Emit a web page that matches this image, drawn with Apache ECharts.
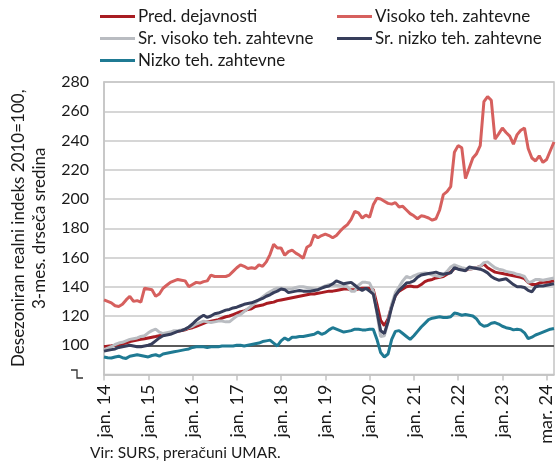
<!DOCTYPE html>
<html>
<head>
<meta charset="utf-8">
<script src="https://cdn.jsdelivr.net/npm/echarts@6/dist/echarts.min.js"></script>
<style>
  html, body { margin: 0; padding: 0; background: #fff; }
  #chart { width: 556px; height: 465px; }
</style>
</head>
<body>
<div id="chart"></div>
<script>
// mesečni podatki jan. 2014 - mar. 2024, 3-mes. drseča sredina
var months = [];
var mNames = ['jan.', 'feb.', 'mar.', 'apr.', 'maj', 'jun.', 'jul.', 'avg.', 'sep.', 'okt.', 'nov.', 'dec.'];
for (var y = 14; y <= 24; y++) {
    for (var m = 0; m < 12; m++) {
        if (y === 24 && m > 2) break;
        months.push(mNames[m] + ' ' + y);
    }
}

// oznake na osi x (vsakih 12 mesecev)
var tickLabels = ['jan. 14', 'jan. 15', 'jan. 16', 'jan. 17', 'jan. 18', 'jan. 19',
    'jan. 20', 'jan. 21', 'jan. 22', 'jan. 23', 'mar. 24'];
var yTicks = [100, 120, 140, 160, 180, 200, 220, 240, 260, 280];

var pred = [99, 99.3, 99.6, 100, 100.5, 101, 101.5, 102.5, 103, 103.5, 104, 104.5,
    105, 105.5, 106, 106.5, 107, 107.5, 108.5, 109, 109.5, 110, 110.5, 111.5,
    112, 113, 114, 115, 116, 116.5, 117, 117.5, 118.5, 119.5, 120, 121,
    122, 123, 123.5, 124.5, 125, 126.5, 127, 127.5, 128.5, 129, 129.5, 130.5,
    131, 131.5, 132, 132.5, 133, 133.5, 134, 134.5, 135, 135, 135.5, 136,
    136.5, 137, 137, 137.5, 138, 138.5, 138.5, 138, 138, 138.5, 139, 139,
    139, 138, 128, 117, 113.5, 118, 127, 134, 137, 138.5, 140, 140.5,
    140, 140, 141.5, 143.5, 144.5, 145, 146, 146.5, 147, 148.5, 150, 152.5,
    153, 152, 151.5, 152, 152.5, 153, 154, 155.5, 153, 151.5, 150, 149.5,
    149, 148.5, 148, 147.5, 147, 146.5, 145.5, 143, 141.5, 141.5, 142.5, 143,
    143, 143.5, 144];

var visoko = [131, 130, 129, 127, 126.5, 128, 131, 133.5, 130, 130.5, 129.5, 139,
    138.5, 138, 133.5, 135, 139, 141, 143, 144, 145, 144.5, 144, 140,
    141.5, 143, 142.5, 143.5, 144, 148, 147, 147, 147, 147, 148, 150.5,
    153, 155, 154, 152.5, 153, 152.5, 155, 154, 157, 162, 169, 166.5,
    166.5, 161.5, 164, 165, 163, 161.5, 159.5, 167, 168.5, 175.5, 173.5, 175,
    176, 175, 173.5, 175, 178, 180.5, 182.5, 186, 191.5, 190.5, 187, 189,
    187.5, 196, 200.5, 200, 198.5, 197, 196.5, 197.5, 194.5, 195, 192.5, 190,
    188.5, 186.5, 188.5, 188, 187, 185.5, 186.5, 192.5, 203, 205, 208.5, 232,
    236.5, 235, 214, 221, 228, 231, 236.5, 266.5, 270, 267.5, 241, 244.5,
    248.5, 245.5, 243, 237.5, 244, 247, 248.5, 234.5, 228, 226, 229.5, 225,
    227, 233, 239];

var srVisoko = [97, 98, 99, 100.5, 101.5, 102, 103, 104, 104.5, 105, 106, 106.5,
    108.5, 110, 111, 109, 108, 108.5, 109, 110, 110, 110.5, 111, 112,
    113, 114.5, 115.5, 116.5, 116, 115.5, 116, 116.5, 116.5, 116, 116, 118,
    120, 121, 123, 125, 127, 129, 131, 133, 135, 136.5, 138, 139,
    139, 138.5, 138.5, 138.5, 139.5, 140, 140, 139.5, 139, 138.5, 138, 139.5,
    140.5, 141.5, 141, 141, 140.5, 140.5, 140, 137, 137, 141, 143, 143,
    142.5, 137, 122, 106, 106.5, 116, 128, 136, 140, 144, 147, 146,
    147.5, 148.5, 149, 149.5, 149, 148, 147.5, 147, 148, 150.5, 153.5, 155,
    154, 153, 152.5, 152, 152.5, 153, 154, 156.5, 157, 155, 153, 152,
    151.5, 150.5, 150, 149.5, 148.5, 148, 147, 143, 143.5, 145, 145, 144.5,
    145, 145.5, 146];

var srNizko = [96, 96.5, 97, 97.5, 98.5, 99, 99.5, 100, 99.5, 99, 99, 99.5,
    100, 101, 103, 105, 106.5, 107, 107.5, 108.5, 109.5, 110, 111, 112.5,
    114.5, 117, 119, 120.5, 119, 120, 121.5, 122, 123, 124, 124.5, 125.5,
    126, 127, 128, 128.5, 129, 130, 131, 132, 133.5, 134.5, 136, 137,
    138.5, 138, 136, 136.5, 137, 137.5, 137, 137, 137, 137.5, 138, 139,
    140, 140.5, 142, 144, 143, 142, 142.5, 143, 141, 139, 137.5, 139,
    137, 135, 123, 110, 108, 116, 126, 134, 137.5, 140, 142.5, 143,
    144, 146.5, 148, 148.5, 149, 149.5, 150, 149, 148.5, 149, 149.5, 153,
    152, 151.5, 151, 153.5, 153, 152.5, 152, 151, 149.5, 147, 145.5, 144.5,
    145, 145.5, 143.5, 141.5, 140, 140, 139.5, 137.5, 136.5, 140, 140.5, 140.5,
    141, 141.5, 142];

var nizko = [92, 91.5, 91.3, 92, 92.5, 91.5, 91, 92.5, 93, 93.5, 93, 92.5,
    92, 93, 93.5, 92.5, 94, 94.5, 95, 95.5, 96, 96.5, 97, 97.5,
    98.5, 99, 99, 99, 98.5, 99, 99, 99, 99.5, 99.5, 99.5, 99.5,
    100, 100, 99.5, 100, 100.5, 101, 101.5, 102.5, 103, 103.5, 101.5, 99.5,
    103, 105, 103.5, 105.5, 105.5, 106, 106, 106.5, 107, 107.5, 109, 107.5,
    108.5, 110.5, 112, 111, 110, 109, 109.5, 110, 111, 111, 110.5, 110.5,
    111, 111, 104, 95, 92, 94, 104, 109.5, 110, 108, 106, 104,
    106.5, 109.5, 112.5, 115, 117.5, 118.5, 119, 119.5, 119, 119, 119.5, 122,
    121.5, 120.5, 121, 120.5, 120, 118, 114.5, 113, 113.5, 115, 115.5, 114.5,
    113, 112, 111.5, 110.5, 111, 110.5, 108.5, 104.5, 105.5, 107, 108, 109,
    110, 111, 111.5];

var seriesNames = ['Pred. dejavnosti', 'Visoko teh. zahtevne', 'Sr. visoko teh. zahtevne',
    'Sr. nizko teh. zahtevne', 'Nizko teh. zahtevne'];
var seriesData = [pred, visoko, srVisoko, srNizko, nizko];
var colors = ['#a81c22', '#d6605e', '#b9bcc1', '#373e5b', '#1f7a93'];

var FONT = 'Lato, "Open Sans", sans-serif';
var TXT = '#1a1a1a';

var chart = echarts.init(document.getElementById('chart'), null, { renderer: 'canvas' });

// legende: dva stolpca
var legendPos = [[100, 8], [337, 8], [100, 30], [337, 30], [100, 52]];
var legends = seriesNames.map(function (n, k) {
    return {
        data: [n],
        left: legendPos[k][0],
        top: legendPos[k][1],
        icon: 'rect',
        itemWidth: 35,
        itemHeight: 3,
        itemGap: 0,
        padding: 0,
        selectedMode: false,
        textStyle: { fontFamily: FONT, fontSize: 17, color: TXT, padding: [0, 0, 0, -2] }
    };
});

var series = seriesData.map(function (d, k) {
    var s = {
        name: seriesNames[k],
        type: 'line',
        data: d,
        symbol: 'none',
        smooth: false,
        lineStyle: { width: 3, color: colors[k] },
        itemStyle: { color: colors[k] },
        z: 3 + k
    };
    if (k === 0) {
        s.markLine = {
            silent: true,
            symbol: 'none',
            label: { show: false },
            lineStyle: { color: '#5a5a5a', width: 2, type: 'solid' },
            data: [{ yAxis: 100 }],
            z: 2
        };
    }
    return s;
});

var option = {
    animation: false,
    backgroundColor: '#fff',
    color: colors,
    legend: legends,
    grid: {
        left: 99,
        right: 2,
        top: 82,
        bottom: 90.5,
        show: true,
        borderColor: '#c4c4c4',
        borderWidth: 1.5,
        containLabel: false
    },
    xAxis: {
        type: 'category',
        data: months,
        boundaryGap: false,
        axisLine: { lineStyle: { color: '#c4c4c4', width: 1.5 } },
        axisTick: {
            show: true,
            length: 6,
            interval: function (i) { return i % 12 === 0; },
            lineStyle: { color: '#c4c4c4', width: 1.5 }
        },
        axisLabel: {
            rotate: 90,
            margin: 10,
            fontFamily: FONT,
            fontSize: 18,
            color: TXT,
            interval: function (i) { return i % 12 === 0; },
            formatter: function (v, i) { return tickLabels[i / 12] || ''; }
        },
        splitLine: { show: false }
    },
    yAxis: {
        type: 'value',
        min: 80,
        max: 280,
        interval: 20,
        name: 'Desezoniran realni indeks 2010=100,\n3-mes. drseča sredina',
        nameLocation: 'middle',
        nameRotate: 90,
        nameGap: 54,
        nameTextStyle: { fontFamily: FONT, fontSize: 17, color: TXT, lineHeight: 21 },
        axisLine: { show: true, lineStyle: { color: '#c4c4c4', width: 1.5 } },
        axisTick: { show: false },
        axisLabel: {
            margin: 15,
            fontFamily: FONT,
            fontSize: 16,
            color: TXT,
            formatter: function (v) { return yTicks.indexOf(v) >= 0 ? String(v) : ''; }
        },
        splitLine: { show: true, lineStyle: { color: '#c8c8c8', width: 1.5 } }
    },
    graphic: [
        {
            // znak za prekinjeno os
            type: 'polyline',
            shape: { points: [[71, 370], [77, 370], [77, 378], [83, 378]] },
            style: { stroke: '#333', lineWidth: 1.3, fill: null }
        },
        {
            type: 'text',
            left: 90,
            top: 445,
            style: { text: 'Vir: SURS, preračuni UMAR.', fontFamily: FONT, fontSize: 15.5, fill: TXT }
        }
    ],
    series: series
};
chart.setOption(option);
</script>
</body>
</html>
